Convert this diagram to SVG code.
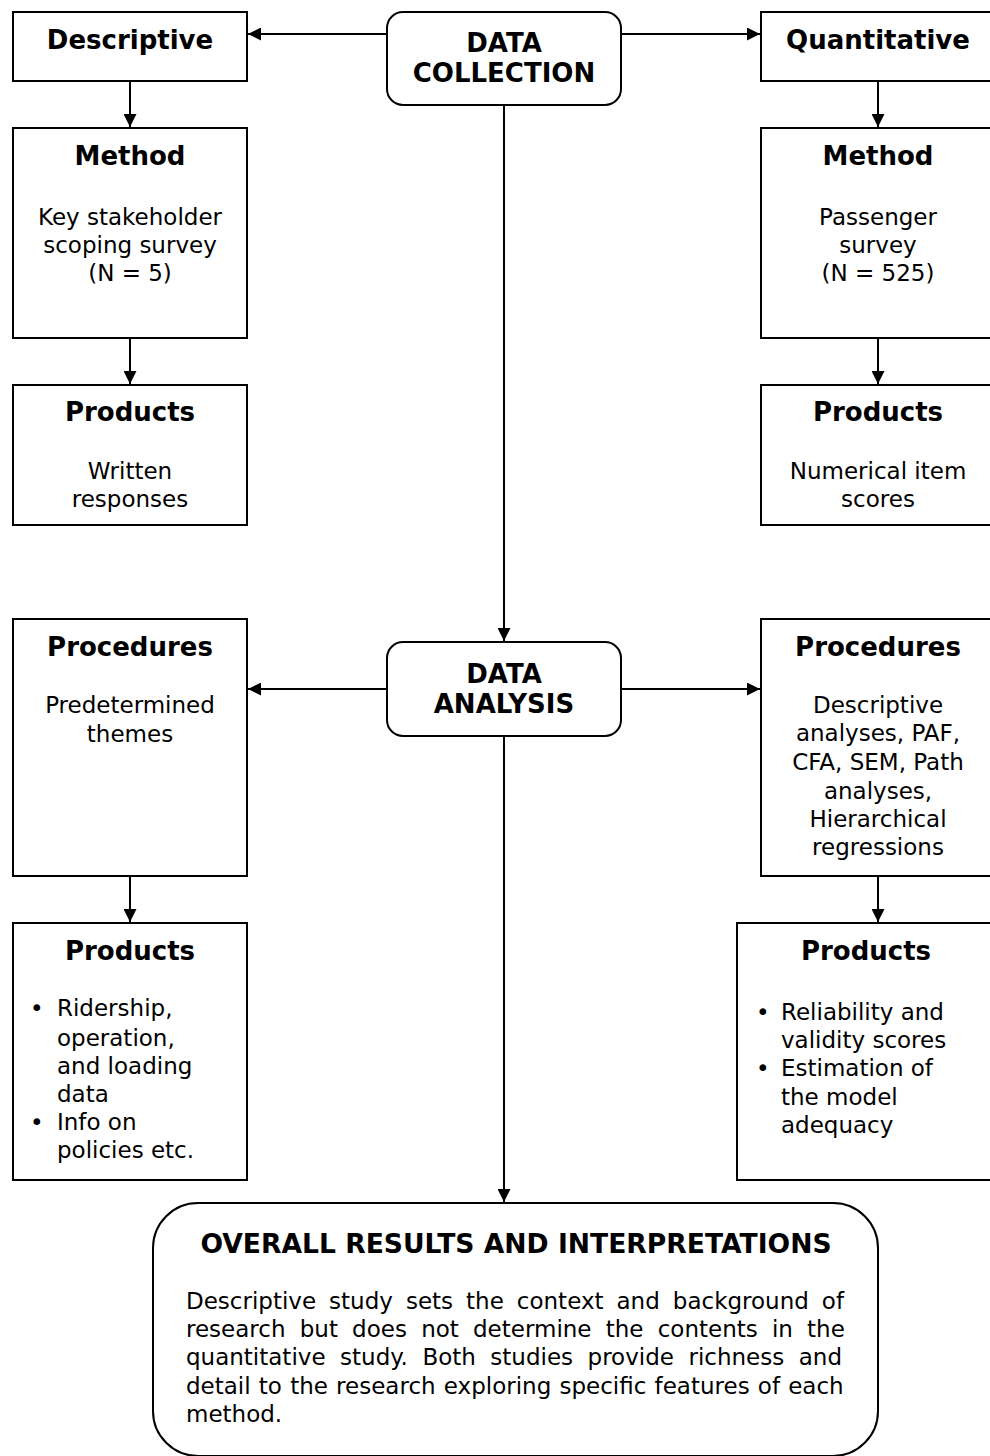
<svg xmlns="http://www.w3.org/2000/svg" width="990" height="1456" viewBox="0 0 990 1456">
<style>
.box{fill:#fff;stroke:#000;stroke-width:2}
.h{font-family:"DejaVu Sans",Verdana,sans-serif;font-weight:bold;font-size:26px;text-anchor:middle;fill:#000}
.t{font-family:"DejaVu Sans",Verdana,sans-serif;font-size:23px;text-anchor:middle;fill:#000}
.tl{font-family:"DejaVu Sans",Verdana,sans-serif;font-size:23px;fill:#000}
.fh{font-family:"DejaVu Sans",Verdana,sans-serif;font-weight:bold;font-size:26.6px;text-anchor:middle;fill:#000}
.ft{font-family:"DejaVu Sans",Verdana,sans-serif;font-size:23px;fill:#000}
.c{fill:none;stroke:#000;stroke-width:2}
</style>
<defs>
<marker id="ah" markerWidth="13" markerHeight="13" viewBox="0 0 13 13" refX="13" refY="6.5" orient="auto" markerUnits="userSpaceOnUse">
<path d="M0,0 L13,6.5 L0,13 Z" fill="#000"/>
</marker>
</defs>
<g id="connectors">
<line class="c" x1="387" y1="34" x2="248" y2="34" marker-end="url(#ah)"/>
<line class="c" x1="621" y1="34" x2="760" y2="34" marker-end="url(#ah)"/>
<line class="c" x1="130" y1="81" x2="130" y2="127" marker-end="url(#ah)"/>
<line class="c" x1="130" y1="338" x2="130" y2="384" marker-end="url(#ah)"/>
<line class="c" x1="878" y1="81" x2="878" y2="127" marker-end="url(#ah)"/>
<line class="c" x1="878" y1="338" x2="878" y2="384" marker-end="url(#ah)"/>
<line class="c" x1="504" y1="105" x2="504" y2="641" marker-end="url(#ah)"/>
<line class="c" x1="387" y1="689" x2="248" y2="689" marker-end="url(#ah)"/>
<line class="c" x1="621" y1="689" x2="760" y2="689" marker-end="url(#ah)"/>
<line class="c" x1="130" y1="876" x2="130" y2="922" marker-end="url(#ah)"/>
<line class="c" x1="878" y1="876" x2="878" y2="922" marker-end="url(#ah)"/>
<line class="c" x1="504" y1="736" x2="504" y2="1202" marker-end="url(#ah)"/>
</g>
<g id="descriptive">
<rect class="box" x="13" y="12" width="234" height="69"/>
<text class="h" x="130" y="49">Descriptive</text>
</g>
<g id="data-collection">
<rect class="box" x="387" y="12" width="234" height="93" rx="16"/>
<text class="h" x="504" y="52">DATA</text>
<text class="h" x="504" y="82">COLLECTION</text>
</g>
<g id="quantitative">
<rect class="box" x="761" y="12" width="234" height="69"/>
<text class="h" x="878" y="49">Quantitative</text>
</g>
<g id="method-left">
<rect class="box" x="13" y="128" width="234" height="210"/>
<text class="h" x="130" y="165">Method</text>
<text class="t" x="130" y="225">Key stakeholder</text>
<text class="t" x="130" y="253">scoping survey</text>
<text class="t" x="130" y="281">(N = 5)</text>
</g>
<g id="method-right">
<rect class="box" x="761" y="128" width="234" height="210"/>
<text class="h" x="878" y="165">Method</text>
<text class="t" x="878" y="225">Passenger</text>
<text class="t" x="878" y="253">survey</text>
<text class="t" x="878" y="281">(N = 525)</text>
</g>
<g id="products-left-top">
<rect class="box" x="13" y="385" width="234" height="140"/>
<text class="h" x="130" y="421">Products</text>
<text class="t" x="130" y="479">Written</text>
<text class="t" x="130" y="507">responses</text>
</g>
<g id="products-right-top">
<rect class="box" x="761" y="385" width="234" height="140"/>
<text class="h" x="878" y="421">Products</text>
<text class="t" x="878" y="479">Numerical item</text>
<text class="t" x="878" y="507">scores</text>
</g>
<g id="data-analysis">
<rect class="box" x="387" y="642" width="234" height="94" rx="16"/>
<text class="h" x="504" y="683">DATA</text>
<text class="h" x="504" y="713">ANALYSIS</text>
</g>
<g id="procedures-left">
<rect class="box" x="13" y="619" width="234" height="257"/>
<text class="h" x="130" y="656">Procedures</text>
<text class="t" x="130" y="713">Predetermined</text>
<text class="t" x="130" y="742">themes</text>
</g>
<g id="procedures-right">
<rect class="box" x="761" y="619" width="234" height="257"/>
<text class="h" x="878" y="656">Procedures</text>
<text class="t" x="878" y="713">Descriptive</text>
<text class="t" x="878" y="741">analyses, PAF,</text>
<text class="t" x="878" y="770">CFA, SEM, Path</text>
<text class="t" x="878" y="799">analyses,</text>
<text class="t" x="878" y="827">Hierarchical</text>
<text class="t" x="878" y="855">regressions</text>
</g>
<g id="products-left-bottom">
<rect class="box" x="13" y="923" width="234" height="257"/>
<text class="h" x="130" y="960">Products</text>
<text class="tl" x="30" y="1016">•</text>
<text class="tl" x="57" y="1016">Ridership,</text>
<text class="tl" x="57" y="1046">operation,</text>
<text class="tl" x="57" y="1074">and loading</text>
<text class="tl" x="57" y="1102">data</text>
<text class="tl" x="30" y="1130">•</text>
<text class="tl" x="57" y="1130">Info on</text>
<text class="tl" x="57" y="1158">policies etc.</text>
</g>
<g id="products-right-bottom">
<rect class="box" x="737" y="923" width="258" height="257"/>
<text class="h" x="866" y="960">Products</text>
<text class="tl" x="756" y="1020">•</text>
<text class="tl" x="781" y="1020">Reliability and</text>
<text class="tl" x="781" y="1048">validity scores</text>
<text class="tl" x="756" y="1076">•</text>
<text class="tl" x="781" y="1076">Estimation of</text>
<text class="tl" x="781" y="1105">the model</text>
<text class="tl" x="781" y="1133">adequacy</text>
</g>
<g id="overall-results">
<rect class="box" x="153" y="1203" width="725" height="253" rx="45"/>
<text class="fh" x="516" y="1253">OVERALL RESULTS AND INTERPRETATIONS</text>
<text class="ft" x="186" y="1309" word-spacing="5.7">Descriptive study sets the context and background of</text>
<text class="ft" x="186" y="1337" word-spacing="6.9">research but does not determine the contents in the</text>
<text class="ft" x="186" y="1365" word-spacing="7.2">quantitative study. Both studies provide richness and</text>
<text class="ft" x="186" y="1394" word-spacing="0.9">detail to the research exploring specific features of each</text>
<text class="ft" x="186" y="1422">method.</text>
</g>
</svg>
